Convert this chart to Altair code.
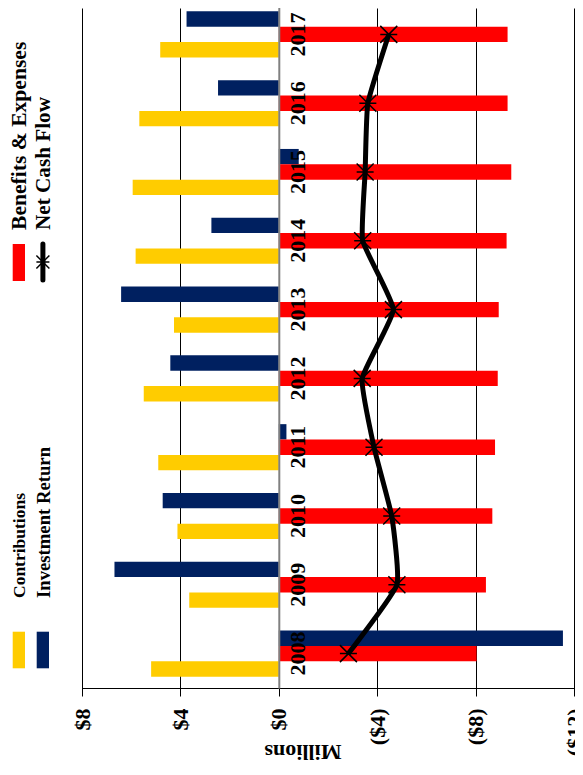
import altair as alt
import pandas as pd

# ---------------- data ($ millions) ----------------
years = [2008, 2009, 2010, 2011, 2012, 2013, 2014, 2015, 2016, 2017]
contributions = [5.19, 3.64, 4.12, 4.90, 5.49, 4.26, 5.82, 5.94, 5.67, 4.82]
investment_return = [-11.55, 6.68, 4.72, -0.31, 4.41, 6.41, 2.74, -0.81, 2.47, 3.75]
benefits_expenses = [-8.04, -8.42, -8.68, -8.79, -8.90, -8.94, -9.26, -9.45, -9.30, -9.30]
net_cash_flow = [-2.83, -4.80, -4.59, -3.87, -3.39, -4.66, -3.41, -3.51, -3.62, -4.47]
tick_values = [8, 4, 0, -4, -8, -12]
series_names = ["Contributions", "Investment Return", "Benefits & Expenses", "Net Cash Flow"]
series_colors = ["#FFCC00", "#002060", "#FF0000", "#000000"]
axis_title = "Millions"

bars_df = pd.DataFrame({
    "year": years * 3,
    "series": [series_names[0]] * len(years) + [series_names[1]] * len(years) + [series_names[2]] * len(years),
    "value": contributions + investment_return + benefits_expenses,
})
line_df = pd.DataFrame({"year": years, "value": net_cash_flow})
one = pd.DataFrame({"k": [0]})

FONT = "Liberation Serif"
W, H = 492, 680
STAR = "M-1,-1L1,1M-1,1L1,-1M-1,0L1,0"
ZERO_X = W * 8 / 20  # pixel position of $0 inside the plot

y_enc = alt.Y(
    "year:O",
    scale=alt.Scale(domain=sorted(years, reverse=True), range=[-8, H],
                    paddingInner=0.33, paddingOuter=0.165),
    axis=alt.Axis(
        orient="right", offset=-(W - ZERO_X), title=None, ticks=False, grid=False,
        domainColor="#808080", domainWidth=2,
        labelFont=FONT, labelFontWeight="bold", labelFontSize=22, labelColor="#000000",
        labelAngle=270, labelAlign="center", labelBaseline="top", labelPadding=9,
        zindex=1,
    ),
)
x_enc = alt.X(
    "value:Q",
    scale=alt.Scale(domain=[-12, 8], reverse=True, nice=False, zero=False),
    axis=alt.Axis(
        values=tick_values, grid=True, gridColor="#000000", gridWidth=1,
        domainColor="#000000", domainWidth=1, tickColor="#000000", tickSize=7,
        labelExpr="datum.value < 0 ? '($' + format(-datum.value, 'd') + ')' : '$' + format(datum.value, 'd')",
        labelFont=FONT, labelFontWeight="bold", labelFontSize=22, labelColor="#000000",
        labelAngle=270, labelAlign="right", labelBaseline="middle", labelPadding=13,
        labelFlush=False, labelOverlap=False, labelBound=False,
        title=axis_title, titleFont=FONT, titleFontWeight="bold", titleFontSize=22,
        titleColor="#000000", titleAngle=180, titleX=220.5, titleY=56,
        titleAlign="center", titleBaseline="alphabetic",
    ),
)

bars = alt.Chart(bars_df).mark_bar().encode(
    x=x_enc,
    y=y_enc,
    yOffset=alt.YOffset("series:N", scale=alt.Scale(domain=[series_names[1], series_names[2], series_names[0]], paddingInner=0, paddingOuter=0)),
    color=alt.Color("series:N", scale=alt.Scale(domain=series_names[:3], range=series_colors[:3]), legend=None),
)

line = alt.Chart(line_df).mark_line(color="#000000", strokeWidth=5, interpolate="cardinal", tension=0.6).encode(
    x=x_enc, y=y_enc, order=alt.Order("year:O"),
)
stars = alt.Chart(line_df).mark_point(shape=STAR, size=289, filled=False, stroke="#000000", strokeWidth=1.5, opacity=1).encode(
    x=x_enc, y=y_enc,
)

# ---------------- rotated legend (drawn by hand, like the reference) ----------------
def legend_text(name, x, y, fs):
    return alt.Chart(one).mark_text(
        text=name, angle=270, align="left", baseline="middle",
        font=FONT, fontWeight="bold", fontSize=fs, color="#000000",
    ).encode(x=alt.value(x), y=alt.value(y))

def swatch(color, x1, x2, y1, y2):
    return alt.Chart(one).mark_rect(color=color).encode(
        x=alt.value(x1), x2=alt.value(x2), y=alt.value(y1), y2=alt.value(y2)
    )

legend_layers = [
    swatch(series_colors[0], -69.3, -57, 623.7, 660.3),
    legend_text(series_names[0], -62.5, 590, 17.5),
    swatch(series_colors[1], -45.3, -33, 623.7, 660.3),
    legend_text(series_names[1], -38.5, 590, 18.7),
    swatch(series_colors[2], -69.3, -57, 236, 273),
    legend_text(series_names[2], -62.5, 222, 21.6),
    alt.Chart(one).mark_rule(color="#000000", strokeWidth=5, strokeCap="round").encode(
        x=alt.value(-39.1), y=alt.value(236), y2=alt.value(272)
    ),
    alt.Chart(one).mark_point(shape=STAR, size=169, filled=False, stroke="#000000", strokeWidth=1.5, opacity=1).encode(
        x=alt.value(-39.1), y=alt.value(254)
    ),
    legend_text(series_names[3], -38.5, 222, 21.2),
]

chart = alt.layer(bars, line, stars, *legend_layers).properties(
    width=W, height=H,
    padding={"left": 74, "top": 0, "right": 1, "bottom": 77},
    autosize="none",
).configure_view(strokeWidth=0)

chart.save("out.html", embed_options={"renderer": "svg", "actions": False})
